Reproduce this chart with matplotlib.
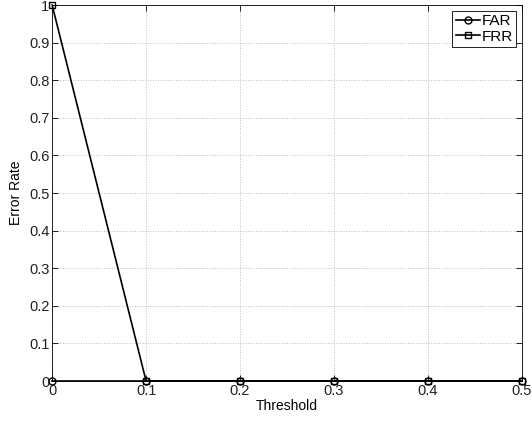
import numpy as np
import matplotlib
matplotlib.use("Agg")
import matplotlib.pyplot as plt

plt.rcParams['font.family'] = ['Liberation Sans', 'DejaVu Sans']

threshold = [0, 0.1, 0.2, 0.3, 0.4, 0.5]
far = [0, 0, 0, 0, 0, 0]
frr = [1, 0, 0, 0, 0, 0]

fig = plt.figure(figsize=(5.32, 4.21), dpi=100)
ax = fig.add_axes([0.098, 0.095, 0.883, 0.893])

ax.plot(threshold, far, '-o', color='k', lw=1.2, ms=5, mfc='none', mew=1.0,
        label='FAR', clip_on=False, zorder=3)
ax.plot(threshold, frr, '-s', color='k', lw=1.2, ms=5, mfc='none', mew=1.0,
        label='FRR', clip_on=False, zorder=3)

ax.set_xlim(0, 0.5)
ax.set_ylim(0, 1)
ax.set_xticks(np.arange(0, 0.51, 0.1))
ax.set_yticks(np.arange(0, 1.01, 0.1))
ax.set_xticklabels(['0', '0.1', '0.2', '0.3', '0.4', '0.5'])
ax.set_yticklabels(['0', '0.1', '0.2', '0.3', '0.4', '0.5', '0.6', '0.7', '0.8', '0.9', '1'])
ax.tick_params(direction='in', length=4, labelsize=10.5, width=0.6, top=True, right=True,
               pad=2, labelcolor='#222222')
ax.grid(True, linestyle=':', color='#bbbbbb', linewidth=0.7)
for s in ax.spines.values():
    s.set_linewidth(0.6)

ax.set_xlabel('Threshold', fontsize=10, labelpad=1)
ax.set_ylabel('Error Rate', fontsize=10, labelpad=4)

leg = ax.legend(loc='upper right', fontsize=11, frameon=True, fancybox=False,
                edgecolor='k', framealpha=1, borderpad=0.2, handlelength=1.6,
                handletextpad=0.1, labelspacing=0.1, borderaxespad=0.4)
leg.get_frame().set_linewidth(0.6)

fig.savefig('out.png', dpi=100)
